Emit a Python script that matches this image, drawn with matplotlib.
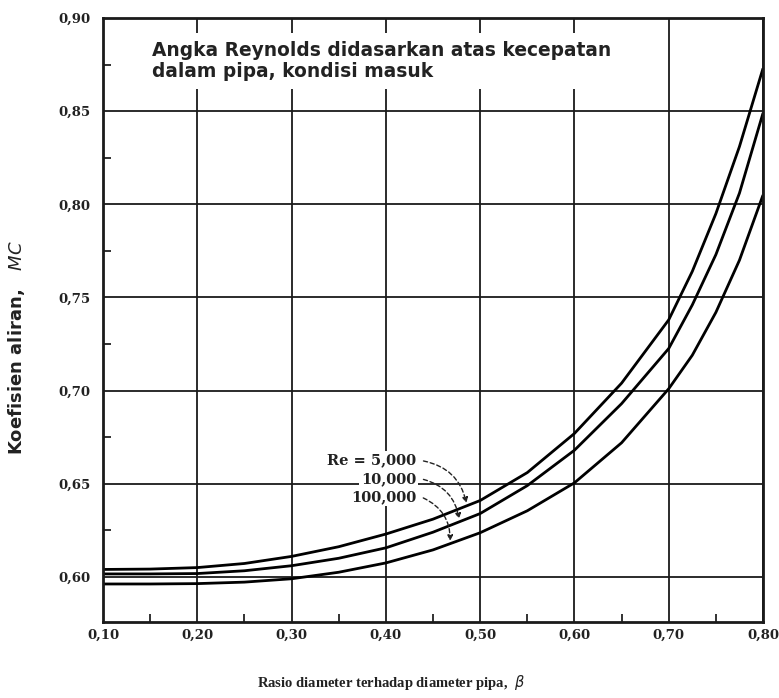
import matplotlib.pyplot as plt
from matplotlib.ticker import MultipleLocator, FixedLocator
import numpy as np

# rasio diameter beta dan koefisien aliran untuk tiga angka Reynolds
beta = [0.10, 0.15, 0.20, 0.25, 0.30, 0.35, 0.40, 0.45, 0.50,
        0.55, 0.60, 0.65, 0.70, 0.725, 0.75, 0.775, 0.80]
mc_re_5000 = [0.6040, 0.6042, 0.6050, 0.6072, 0.6110, 0.6162, 0.6230, 0.6310, 0.6410,
              0.6560, 0.6770, 0.7040, 0.7380, 0.7640, 0.7950, 0.8310, 0.8730]
mc_re_10000 = [0.6016, 0.6016, 0.6018, 0.6033, 0.6060, 0.6100, 0.6156, 0.6240, 0.6340,
               0.6490, 0.6680, 0.6930, 0.7226, 0.7460, 0.7730, 0.8060, 0.8490]
mc_re_100000 = [0.5962, 0.5962, 0.5964, 0.5972, 0.5990, 0.6025, 0.6075, 0.6145, 0.6237,
                0.6355, 0.6505, 0.6720, 0.7010, 0.7190, 0.7420, 0.7700, 0.8050]

re_labels = ['Re = 5,000', '10,000', '100,000']
x_ticks = [0.10, 0.20, 0.30, 0.40, 0.50, 0.60, 0.70, 0.80]
y_ticks = [0.60, 0.65, 0.70, 0.75, 0.80, 0.85, 0.90]

serif = ['DejaVu Serif']
times = ['Liberation Serif']
sans = ['DejaVu Sans']
ink = '#222222'

fig = plt.figure(figsize=(7.79, 6.98), dpi=100)
ax = fig.add_axes([0.1322, 0.1089, 0.8473, 0.8653])

ax.set_xlim(0.10, 0.80)
ax.set_ylim(0.5758, 0.90)

ax.xaxis.set_major_locator(FixedLocator(x_ticks))
ax.yaxis.set_major_locator(FixedLocator(y_ticks))
ax.xaxis.set_minor_locator(MultipleLocator(0.05))
ax.yaxis.set_minor_locator(MultipleLocator(0.025))
ax.set_xticklabels([f'{v:.2f}'.replace('.', ',') for v in x_ticks],
                   family=serif, fontsize=9.5, fontweight='bold')
ax.set_yticklabels([f'{v:.2f}'.replace('.', ',') for v in y_ticks],
                   family=serif, fontsize=9.5, fontweight='bold')
ax.tick_params(which='major', direction='in', length=0, colors=ink)
ax.tick_params(axis='x', which='major', pad=5)
ax.tick_params(axis='y', which='major', pad=9)
ax.tick_params(which='minor', direction='in', length=6, width=1.3, color=ink)

ax.grid(True, which='major', color='#1a1a1a', linewidth=1.3)
for side in ax.spines.values():
    side.set_linewidth(2.0)
    side.set_color('#1a1a1a')

for mc in (mc_re_5000, mc_re_10000, mc_re_100000):
    ax.plot(beta, mc, color='black', linewidth=2.0, solid_capstyle='butt')

ax.text(0.152, 0.877,
        'Angka Reynolds didasarkan atas kecepatan\ndalam pipa, kondisi masuk',
        family=sans, fontsize=13.4, fontweight='bold', color=ink,
        linespacing=1.12, va='center', ha='left',
        bbox=dict(boxstyle='square,pad=0.45', facecolor='white', edgecolor='none'))

# label Re dengan panah putus-putus ke masing-masing kurva
label_y = [0.6625, 0.6527, 0.6430]
arrow_to = [(0.486, np.interp(0.486, beta, mc_re_5000)),
            (0.478, np.interp(0.478, beta, mc_re_10000)),
            (0.468, np.interp(0.468, beta, mc_re_100000))]
for text, ty, (ex, ey) in zip(re_labels, label_y, arrow_to):
    ax.text(0.432, ty, text, family=serif, fontsize=10.5, fontweight='bold',
            ha='right', va='center', color=ink,
            bbox=dict(boxstyle='square,pad=0.15', facecolor='white', edgecolor='none'))
    ax.annotate('', xy=(ex, ey), xytext=(0.437, ty),
                arrowprops=dict(arrowstyle='-|>', linestyle=(0, (3, 2)), color=ink,
                                linewidth=1.0, connectionstyle='arc3,rad=-0.35',
                                mutation_scale=8))

ax.set_xlabel('Rasio diameter terhadap diameter pipa,  $\\beta$',
              family=times, fontsize=10.5, fontweight='bold', color=ink)
ax.xaxis.set_label_coords(0.436, -0.085)
ax.set_ylabel('Koefisien aliran,   $MC$', family=sans, fontsize=13,
              fontweight='bold', color=ink)
ax.yaxis.set_label_coords(-0.115, 0.455)

fig.savefig('out.png', dpi=100, facecolor='white')
